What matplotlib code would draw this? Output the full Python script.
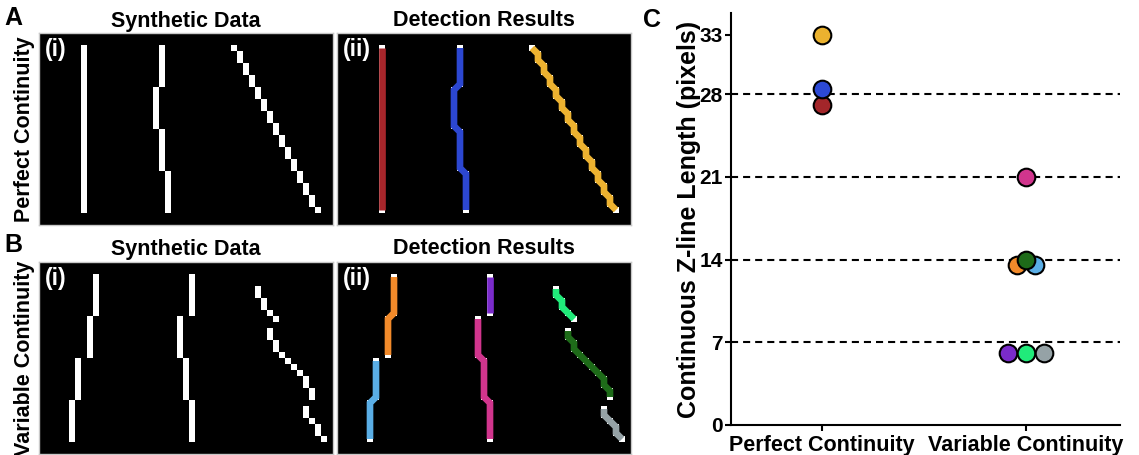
import numpy as np
import matplotlib
matplotlib.use('Agg')
import matplotlib.pyplot as plt

plt.rcParams['font.family'] = ['Liberation Sans', 'DejaVu Sans']
plt.rcParams['font.weight'] = 'bold'
plt.rcParams['axes.labelweight'] = 'bold'

# synthetic images: each z-line is a list of runs (column, first row, last row)
IMG_W, IMG_H = 49, 32

perfect_lines = [
    [(7, 2, 29)],
    [(20, 2, 8), (19, 9, 15), (20, 16, 22), (21, 23, 29)],
    [(32, 2, 2), (33, 3, 4), (34, 5, 6), (35, 7, 8), (36, 9, 10), (37, 11, 12),
     (38, 13, 14), (39, 15, 16), (40, 17, 18), (41, 19, 20), (42, 21, 22),
     (43, 23, 24), (44, 25, 26), (45, 27, 28), (46, 29, 29)],
]
perfect_colors = ['#A6262B', '#2C47D1', '#EDB230']

variable_lines = [
    [(9, 2, 8), (8, 9, 15)],
    [(6, 16, 22), (5, 23, 29)],
    [(25, 2, 8)],
    [(23, 9, 15), (24, 16, 22), (25, 23, 29)],
    [(36, 4, 5), (37, 6, 7), (38, 8, 8), (39, 9, 9)],
    [(38, 11, 12), (39, 13, 14), (40, 15, 15), (41, 16, 16), (42, 17, 17),
     (43, 18, 18), (44, 19, 20), (45, 21, 22)],
    [(44, 24, 25), (45, 26, 26), (46, 27, 28), (47, 29, 29)],
]
variable_colors = ['#F28A2A', '#5AAEE6', '#7A2BCB', '#D1358D', '#20EB7A', '#1E6B19', '#95A2A6']

# panel C measurements
categories = ['Perfect Continuity', 'Variable Continuity']
perfect_vals = [27.1, 28.4, 33.0]
perfect_pt_colors = ['#A3262A', '#2C49D6', '#EBB22F']
variable_vals = [21.0, 13.5, 13.5, 14.0, 6.1, 6.1, 6.1]
variable_pt_colors = ['#D1358D', '#F28A2A', '#5AAEE6', '#1E6B19', '#7A2BCB', '#20EB7A', '#95A2A6']
y_ticks = [0, 7, 14, 21, 28, 33]
ref_levels = [7, 14, 21, 28]

W, H = 1139, 455
fig = plt.figure(figsize=(W / 100, H / 100), dpi=100)


def px_axes(x0, y0, w, h):
    return fig.add_axes([x0 / W, 1 - (y0 + h) / H, w / W, h / H])


def make_image(lines):
    img = np.zeros((IMG_H, IMG_W))
    for line in lines:
        for col, r0, r1 in line:
            img[r0:r1 + 1, col] = 1
    return img


def line_path(line):
    xs, ys = [], []
    for col, r0, r1 in line:
        for r in range(r0, r1 + 1):
            xs.append(col)
            ys.append(r)
    return xs, ys


def image_panel(x0, y0, lines, tag, colors=None):
    ax = px_axes(x0, y0, 294, 192)
    ax.imshow(make_image(lines), cmap='gray', vmin=0, vmax=1,
              interpolation='nearest', aspect='auto')
    if colors:
        for line, c in zip(lines, colors):
            xs, ys = line_path(line)
            ax.plot(xs, ys, color=c, lw=4.8, solid_capstyle='butt',
                    solid_joinstyle='miter')
    ax.set_xlim(-0.5, IMG_W - 0.5)
    ax.set_ylim(IMG_H - 0.5, -0.5)
    ax.set_xticks([])
    ax.set_yticks([])
    for s in ax.spines.values():
        s.set_color('#c8c8c8')
        s.set_linewidth(1)
    ax.text(0.02, 0.975, tag, transform=ax.transAxes, color='white',
            fontsize=16.5, va='top', ha='left')
    return ax


image_panel(39, 33, perfect_lines, '(i)')
image_panel(337, 33, perfect_lines, '(ii)', perfect_colors)
image_panel(39, 262, variable_lines, '(i)')
image_panel(337, 262, variable_lines, '(ii)', variable_colors)

fig.text(186 / W, 1 - 26.5 / H, 'Synthetic Data', fontsize=15.5, ha='center', va='baseline')
fig.text(484 / W, 1 - 26.5 / H, 'Detection Results', fontsize=15.5, ha='center', va='baseline')
fig.text(186 / W, 1 - 254.5 / H, 'Synthetic Data', fontsize=15.5, ha='center', va='baseline')
fig.text(484 / W, 1 - 254.5 / H, 'Detection Results', fontsize=15.5, ha='center', va='baseline')
fig.text(25 / W, 1 - 129 / H, 'Perfect Continuity', fontsize=15.5, rotation=90,
         ha='center', va='center')
fig.text(25 / W, 1 - 358 / H, 'Variable Continuity', fontsize=15.5, rotation=90,
         ha='center', va='center')
fig.text(4 / W, 1 - 25 / H, 'A', fontsize=18, va='baseline')
fig.text(4 / W, 1 - 252 / H, 'B', fontsize=18, va='baseline')
fig.text(643 / W, 1 - 27 / H, 'C', fontsize=18, va='baseline')


def swarm_offsets(vals, step=0.088, tol=0.3):
    offsets = np.zeros(len(vals))
    groups = []
    for i, v in enumerate(vals):
        for g in groups:
            if abs(vals[g[0]] - v) < tol:
                g.append(i)
                break
        else:
            groups.append([i])
    for g in groups:
        n = len(g)
        for k, i in enumerate(g):
            offsets[i] = (k - (n - 1) / 2) * step
    return offsets


ax = px_axes(731, 13, 389, 412)
for lvl in ref_levels:
    ax.axhline(lvl, color='black', lw=1.5, ls=(0, (3.4, 2.4)), zorder=1)

for pos, vals, cols in [(0, perfect_vals, perfect_pt_colors),
                        (1, variable_vals, variable_pt_colors)]:
    offs = swarm_offsets(vals)
    for v, o, c in zip(vals, offs, cols):
        ax.scatter(pos + o, v, s=161, color=c, edgecolors='black',
                   linewidths=1.5, zorder=3, clip_on=False)

ax.set_xlim(-0.447, 1.461)
ax.set_ylim(0, 34.86)
ax.set_yticks(y_ticks)
ax.set_xticks([0, 1])
ax.set_xticklabels(categories, fontsize=15.5)
ax.tick_params(axis='y', labelsize=15, width=1.5, length=4, pad=2)
ax.tick_params(axis='x', width=1.5, length=4, pad=3)
for side in ['top', 'right']:
    ax.spines[side].set_visible(False)
for side in ['left', 'bottom']:
    ax.spines[side].set_linewidth(1.5)
ax.set_ylabel('Continuous Z-line Length (pixels)', fontsize=18)
ax.yaxis.set_label_coords(-0.078, 0.5)

fig.savefig('out.png', dpi=100)
